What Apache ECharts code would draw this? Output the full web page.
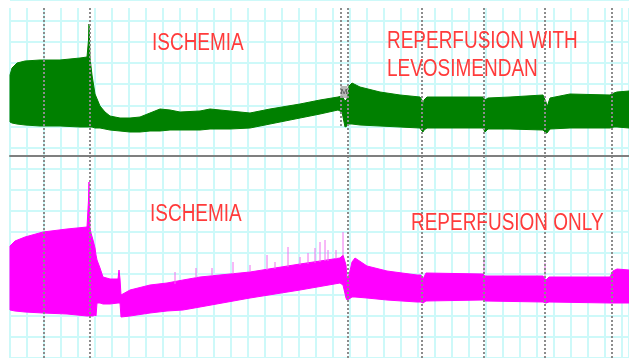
<!DOCTYPE html>
<html><head><meta charset="utf-8">
<script src="https://cdn.jsdelivr.net/npm/echarts@6/dist/echarts.min.js"></script>
<style>html,body{margin:0;padding:0;background:#fff}#c{width:629px;height:358px}</style>
</head><body><div id="c"></div>
<script>
// ---- Top trace (green): time samples, upper / lower envelope (arbitrary units)
const topTimes = [0,2,7,15,30,50,70,77,78.5,79,79.5,80,82,85,90,95,100,110,120,130,140,150,160,170,190,200,220,240,260,290,310,328,332,335,337,339,342,350,370,390,410,412,413,414,417,440,473,475,478,500,533,536,537,540,560,600,604,607,619];
const topUpper = [81,88,93,95,96,96,98,99,116,132,116,98,81,62,50,44,40,38,38,39,43,47,46,44,45,47,45,43,47,52,56,59,60,55,57,70,73,69,64,61,59,56,48,56,59,59,59,56,58,59,61,54,49,58,62,61,63,64,65];
const topLower = [34,33,32,31,30,30,29,29,29,29,29,29,29,28,28,27,26,25,24,24,25,25,26,26,26,27,27,28,32,38,42,46,44,29,30,32,32,31,30,29,28,25,24,26,28,28,28,24,27,27,26,23,23,27,28,28,29,29,28];

// ---- Bottom trace (magenta)
const botTimes = [0,5,15,33,57,77,78.5,79,79.5,80,81,83,85,86,87,90,93,100,108,109,110,111,120,140,157,173,190,240,290,330,333,336,337,339,342,345,357,377,407,411,413,416,473,475,533,536,539,600,603,607,619];
const botUpper = [112,117,121,126,129,131,158,176,148,130,125,118,110,103,98,90,81,79,79,88,79,63,68,73,75,78,81,86,94,100,103,93,80,83,96,100,92,87,83,83,79,85,84,82,82,78,81,81,87,89,88];
const botLower = [48,47,46,45,44,42,42,42,42,42,42,42,43,42,55,55,54,54,55,55,55,41,42,45,47,48,51,60,68,75,73,60,58,59,61,61,60,58,56,56,55,57,58,57,56,55,56,55,55,55,55];

// ---- Bottom trace spikes
const spikeTimes = [165,186,202,223,240,257,265,278,290,298,305,310,315,318,326,333,474,535];
const spikeTops  = [86,90,90,96,93,103,96,111,101,105,110,116,118,108,108,126,100,95];
const spikeBases = [74,80,82,84,86,88,89,91,93,94,95,96,97,97,99,102,84,82];

// ---- Event markers (dotted lines)
const markerTimes = [34, 80, 338, 412, 474, 535, 602];
const topOnlyMarkerTimes = [331];
const eventM = [334, 64];

// ---- Annotations
const labelTexts = ['ISCHEMIA', 'REPERFUSION WITH', 'LEVOSIMENDAN', 'ISCHEMIA', 'REPERFUSION ONLY'];

const GRIDC = '#cdf9f9';
const RED = '#ff3b3b';
const FONT = "'Liberation Sans', Arial, sans-serif";

const chart = echarts.init(document.getElementById('c'), null, {renderer: 'canvas'});

function bandSeries(times, upper, lower, axisIdx, color) {
  return {
    type: 'custom', xAxisIndex: axisIdx, yAxisIndex: axisIdx, silent: true, z: 3,
    data: times.map((t, i) => [t, lower[i], upper[i]]),
    renderItem: (params, api) => {
      if (params.dataIndex !== 0) return null;
      const up = times.map((t, i) => api.coord([t, upper[i]]));
      const lo = times.map((t, i) => api.coord([t, lower[i]])).reverse();
      return {type: 'polygon', shape: {points: up.concat(lo)},
        style: {fill: color, stroke: color, lineWidth: 1}};
    }
  };
}

function label(text, x, y) {
  return {type: 'text', z: 100, x: x, y: y, scaleX: 0.825,
    style: {text: text, fill: RED, font: '23px ' + FONT, textVerticalAlign: 'top'}};
}

const hidden = {show: false};
const opt = {
  animation: false,
  backgroundColor: '#fff',
  grid: [
    {left: 10, right: 0, top: -11.6, height: 384.2},
    {left: 10, right: 0, top: 8, bottom: 0},
    {left: 10, right: 0, top: 0, height: 156},
    {left: 10, right: 0, top: 156, height: 202}
  ],
  xAxis: [
    {gridIndex: 0, type: 'value', min: 0, max: 619, show: false},
    {gridIndex: 1, type: 'value', min: 0, max: 619, interval: 17,
      axisLine: hidden, axisTick: hidden, axisLabel: hidden,
      splitLine: {show: true, lineStyle: {color: GRIDC, width: 2}}},
    {gridIndex: 2, type: 'value', min: 0, max: 619,
      axisLine: {show: true, lineStyle: {color: '#7f7f7f', width: 2}},
      axisTick: hidden, axisLabel: hidden, splitLine: hidden, z: 5},
    {gridIndex: 3, type: 'value', min: 0, max: 619, show: false}
  ],
  yAxis: [
    {gridIndex: 0, type: 'value', min: 0, max: 17, interval: 1,
      axisLine: hidden, axisTick: hidden, axisLabel: hidden,
      splitLine: {show: true, lineStyle: {color: GRIDC, width: 2}}},
    {gridIndex: 1, type: 'value', min: 0, max: 1, show: false},
    {gridIndex: 2, type: 'value', min: 0, max: 156, show: false},
    {gridIndex: 3, type: 'value', min: 0, max: 202, show: false}
  ],
  series: [
    bandSeries(topTimes, topUpper, topLower, 2, '#008000'),
    {type: 'scatter', xAxisIndex: 2, yAxisIndex: 2, silent: true, z: 7,
      symbol: 'rect', symbolSize: [7, 12], itemStyle: {color: '#a8a8a8'},
      label: {show: true, position: 'inside', formatter: 'M', fontSize: 8, color: '#222', fontFamily: FONT},
      data: [eventM]},
    bandSeries(botTimes, botUpper, botLower, 3, '#ff00ff'),
    {type: 'custom', xAxisIndex: 3, yAxisIndex: 3, silent: true, z: 3,
      data: spikeTimes.map((t, i) => [t, spikeBases[i], spikeTops[i]]),
      renderItem: (params, api) => {
        const a = api.coord([api.value(0), api.value(1)]);
        const b = api.coord([api.value(0), api.value(2)]);
        return {type: 'line', shape: {x1: a[0], y1: a[1], x2: b[0], y2: b[1]},
          style: {stroke: '#f070f0', lineWidth: 1}};
      }},
    {type: 'line', xAxisIndex: 1, yAxisIndex: 1, data: [], silent: true, z: 6,
      markLine: {symbol: 'none', silent: true, label: hidden,
        lineStyle: {type: [2, 2], color: '#8c8c8c', width: 2},
        data: markerTimes.map(t => [{coord: [t, 1]}, {coord: [t, 0]}])
          .concat(topOnlyMarkerTimes.map(t => [{coord: [t, 1]}, {coord: [t, 0.657]}]))}}
  ],
  graphic: [
    label(labelTexts[0], 152, 32),
    label(labelTexts[1], 387, 30),
    label(labelTexts[2], 387, 58),
    label(labelTexts[3], 150, 203),
    label(labelTexts[4], 411, 212)
  ]
};
chart.setOption(opt);
</script></body></html>
